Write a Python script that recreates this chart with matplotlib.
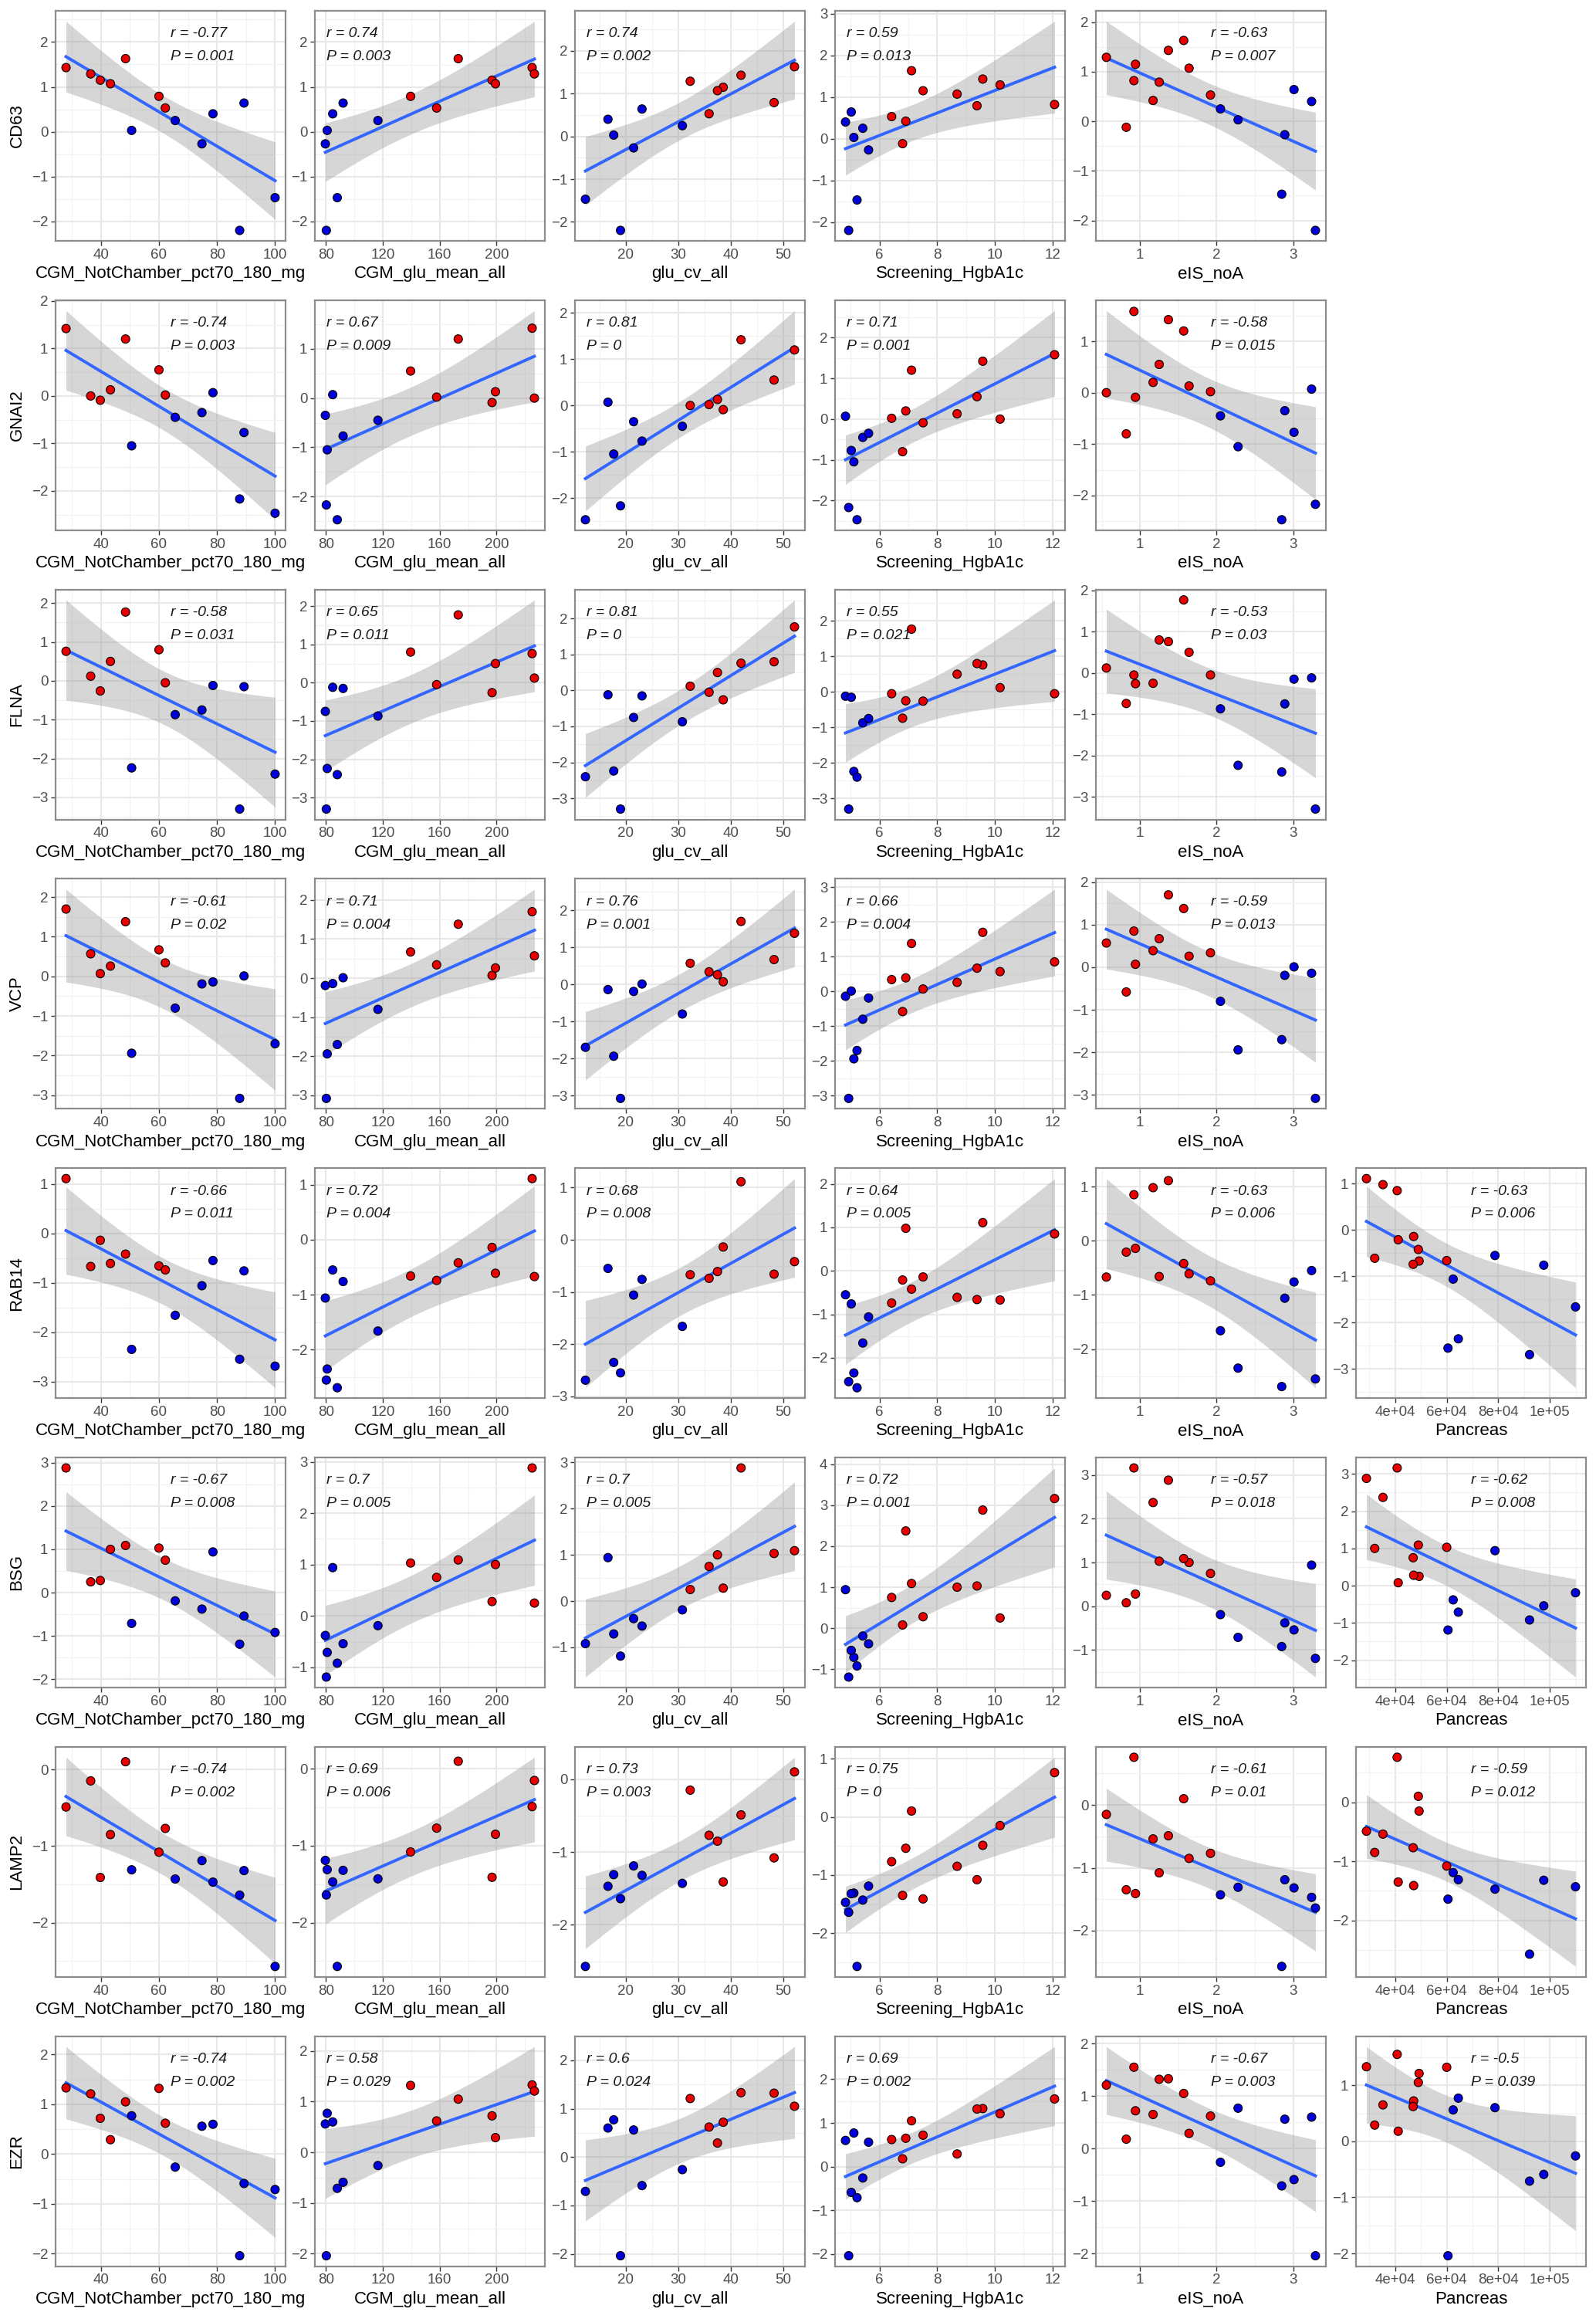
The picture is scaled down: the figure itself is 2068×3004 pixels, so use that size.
import math
import numpy as np
import matplotlib
matplotlib.use('Agg')
import matplotlib.pyplot as plt
from matplotlib.ticker import MultipleLocator, FixedLocator, FixedFormatter

plt.rcParams['font.family'] = ['Liberation Sans', 'DejaVu Sans']

# subjects: 10 cases (red) then 7 controls (blue)
group = ['case'] * 10 + ['control'] * 7
group_colors = {'case': '#E80000', 'control': '#0000DD'}

nan = float('nan')

# clinical variables, one value per subject (nan = not measured)
cgm_pct70_180 = [28.0, 36.5, 39.8, 43.3, 48.5, 60.0, 62.2, nan, nan, nan,
                 50.6, 65.6, 74.8, 78.6, 87.8, 89.3, 100.0]
cgm_glu_mean = [225.0, 226.6, 196.8, 199.2, 173.0, 139.5, 157.8, nan, nan, nan,
                80.8, 116.5, 79.5, 84.7, 80.2, 92.0, 87.9]
glu_cv = [42.0, 32.3, 38.6, 37.5, 52.2, 48.3, 35.9, nan, nan, nan,
          17.7, 30.8, 21.5, 16.6, 19.0, 23.1, 12.3]
hgba1c = [9.58, 10.18, 7.51, 8.69, 7.11, 9.38, 6.42, 6.80, 6.91, 12.07,
          5.11, 5.42, 5.62, 4.82, 4.93, 5.02, 5.22]
eis_noa = [1.37, 0.56, 0.94, 1.64, 1.57, 1.25, 1.92, 0.82, 1.17, 0.92,
           2.28, 2.05, 2.89, 3.24, 3.29, 3.01, 2.85]
pancreas = [2.89e4, 4.93e4, 4.72e4, 3.21e4, 4.90e4, 6.00e4, 4.70e4, 4.12e4, 3.53e4, 4.08e4,
            6.45e4, 1.099e5, 6.25e4, 7.87e4, 6.05e4, 9.76e4, 9.21e4]

x_names = ['CGM_NotChamber_pct70_180_mg', 'CGM_glu_mean_all', 'glu_cv_all',
           'Screening_HgbA1c', 'eIS_noA', 'Pancreas']
x_values = [cgm_pct70_180, cgm_glu_mean, glu_cv, hgba1c, eis_noa, pancreas]
x_ticks = [[40, 60, 80, 100], [80, 120, 160, 200], [20, 30, 40, 50],
           [6, 8, 10, 12], [1, 2, 3], [4e4, 6e4, 8e4, 1e5]]
x_tick_labels = [['40', '60', '80', '100'], ['80', '120', '160', '200'],
                 ['20', '30', '40', '50'], ['6', '8', '10', '12'], ['1', '2', '3'],
                 ['4e+04', '6e+04', '8e+04', '1e+05']]
x_minor_step = [10, 20, 5, 1, 0.5, 1e4]

# protein levels, same subject order
cd63 = [1.43, 1.29, 1.15, 1.07, 1.63, 0.79, 0.53, -0.12, 0.42, 0.82,
        0.03, 0.25, -0.27, 0.40, -2.20, 0.64, -1.47]
gnai2 = [1.42, 0.00, -0.09, 0.13, 1.20, 0.55, 0.02, -0.80, 0.20, 1.58,
         -1.05, -0.45, -0.35, 0.07, -2.17, -0.77, -2.47]
flna = [0.76, 0.12, -0.26, 0.50, 1.77, 0.80, -0.05, -0.74, -0.25, -0.05,
        -2.24, -0.87, -0.75, -0.12, -3.30, -0.15, -2.40]
vcp = [1.70, 0.57, 0.07, 0.26, 1.38, 0.67, 0.34, -0.58, 0.39, 0.85,
       -1.94, -0.80, -0.19, -0.14, -3.08, 0.01, -1.70]
rab14 = [1.11, -0.67, -0.14, -0.61, -0.42, -0.66, -0.74, -0.21, 0.98, 0.85,
         -2.35, -1.66, -1.06, -0.55, -2.55, -0.76, -2.69]
bsg = [2.88, 0.25, 0.28, 1.00, 1.09, 1.03, 0.75, 0.08, 2.37, 3.16,
       -0.71, -0.19, -0.38, 0.94, -1.19, -0.54, -0.92]
lamp2 = [-0.49, -0.15, -1.41, -0.85, 0.10, -1.08, -0.77, -1.35, -0.54, 0.76,
         -1.31, -1.43, -1.19, -1.47, -1.64, -1.32, -2.57]
ezr = [1.33, 1.21, 0.72, 0.29, 1.05, 1.32, 0.62, 0.18, 0.65, 1.55,
       0.77, -0.26, 0.56, 0.60, -2.04, -0.59, -0.71]

proteins = ['CD63', 'GNAI2', 'FLNA', 'VCP', 'RAB14', 'BSG', 'LAMP2', 'EZR']
protein_values = [cd63, gnai2, flna, vcp, rab14, bsg, lamp2, ezr]
n_panels = [5, 5, 5, 5, 6, 6, 6, 6]

r_labels = [
    ['-0.77', '0.74', '0.74', '0.59', '-0.63'],
    ['-0.74', '0.67', '0.81', '0.71', '-0.58'],
    ['-0.58', '0.65', '0.81', '0.55', '-0.53'],
    ['-0.61', '0.71', '0.76', '0.66', '-0.59'],
    ['-0.66', '0.72', '0.68', '0.64', '-0.63', '-0.63'],
    ['-0.67', '0.7', '0.7', '0.72', '-0.57', '-0.62'],
    ['-0.74', '0.69', '0.73', '0.75', '-0.61', '-0.59'],
    ['-0.74', '0.58', '0.6', '0.69', '-0.67', '-0.5'],
]
p_labels = [
    ['0.001', '0.003', '0.002', '0.013', '0.007'],
    ['0.003', '0.009', '0', '0.001', '0.015'],
    ['0.031', '0.011', '0', '0.021', '0.03'],
    ['0.02', '0.004', '0.001', '0.004', '0.013'],
    ['0.011', '0.004', '0.008', '0.005', '0.006', '0.006'],
    ['0.008', '0.005', '0.005', '0.001', '0.018', '0.008'],
    ['0.002', '0.006', '0.003', '0', '0.01', '0.012'],
    ['0.002', '0.029', '0.024', '0.002', '0.003', '0.039'],
]


def t_crit(df, q=0.975):
    t = np.linspace(0, 30, 300001)
    c = math.gamma((df + 1) / 2) / (math.sqrt(df * math.pi) * math.gamma(df / 2))
    pdf = c * (1 + t ** 2 / df) ** (-(df + 1) / 2)
    cdf = 0.5 + np.concatenate([[0], np.cumsum((pdf[1:] + pdf[:-1]) / 2 * (t[1] - t[0]))])
    return t[np.searchsorted(cdf, q)]


def lm_band(x, y):
    # linear fit with 95% confidence band, like geom_smooth(method = "lm")
    n = len(x)
    b1, b0 = np.polyfit(x, y, 1)
    xg = np.linspace(x.min(), x.max(), 100)
    res = y - (b0 + b1 * x)
    s = np.sqrt(np.sum(res ** 2) / (n - 2))
    se = s * np.sqrt(1 / n + (xg - x.mean()) ** 2 / np.sum((x - x.mean()) ** 2))
    yg = b0 + b1 * xg
    t = t_crit(n - 2)
    return xg, yg, yg - t * se, yg + t * se


W, H = 2068, 3004
fig = plt.figure(figsize=(W / 100, H / 100), dpi=100)
lefts = [72, 408, 745, 1082, 1420, 1757]
pw, ph = 298, 298

for i, prot in enumerate(proteins):
    top = 14 + 374.8 * i
    yv_all = np.array(protein_values[i])
    for j in range(n_panels[i]):
        ax = fig.add_axes([lefts[j] / W, 1 - (top + ph) / H, pw / W, ph / H])
        xv_all = np.array(x_values[j])
        ok = ~np.isnan(xv_all)
        xv, yv = xv_all[ok], yv_all[ok]
        cols = [group_colors[g] for g, k in zip(group, ok) if k]

        xg, yg, lo, hi = lm_band(xv, yv)
        ax.fill_between(xg, lo, hi, color='#999999', alpha=0.4, lw=0, zorder=1)
        ax.plot(xg, yg, color='#3366FF', lw=2.8, zorder=2)
        ax.scatter(xv, yv, s=62, c=cols, edgecolors='black', linewidths=0.8, zorder=3)

        x0, x1 = xv.min(), xv.max()
        dx = (x1 - x0) * 0.05
        ax.set_xlim(x0 - dx, x1 + dx)
        y0 = min(yv.min(), lo.min())
        y1 = max(yv.max(), hi.max())
        dy = (y1 - y0) * 0.05
        ax.set_ylim(y0 - dy, y1 + dy)

        ax.xaxis.set_major_locator(FixedLocator(x_ticks[j]))
        ax.xaxis.set_major_formatter(FixedFormatter(x_tick_labels[j]))
        ax.xaxis.set_minor_locator(MultipleLocator(x_minor_step[j]))
        ax.yaxis.set_major_locator(MultipleLocator(1))
        ax.yaxis.set_minor_locator(MultipleLocator(0.5))
        ax.grid(which='major', color='#E8E8E8', lw=1.5)
        ax.grid(which='minor', color='#F2F2F2', lw=0.9)
        ax.set_axisbelow(True)
        ax.tick_params(which='major', length=4, width=1, color='#333333',
                       labelsize=13.5, labelcolor='#4D4D4D', pad=3)
        ax.tick_params(which='minor', length=0)
        for sp in ax.spines.values():
            sp.set_color('#8C8C8C')
            sp.set_linewidth(1.6)

        ax.set_xlabel(x_names[j], fontsize=16, color='black', labelpad=4)
        if j == 0:
            ax.set_ylabel(prot, fontsize=16, color='black', labelpad=6)

        r = r_labels[i][j]
        tx = 0.5 if r.startswith('-') else 0.05
        ax.text(tx, 0.9, 'r = ' + r, transform=ax.transAxes, ha='left', va='center',
                style='italic', fontsize=14, color='#1A1A1A', zorder=4)
        ax.text(tx, 0.8, 'P = ' + p_labels[i][j], transform=ax.transAxes, ha='left',
                va='center', style='italic', fontsize=14, color='#1A1A1A', zorder=4)

fig.savefig('out.png', dpi=100, facecolor='white')
